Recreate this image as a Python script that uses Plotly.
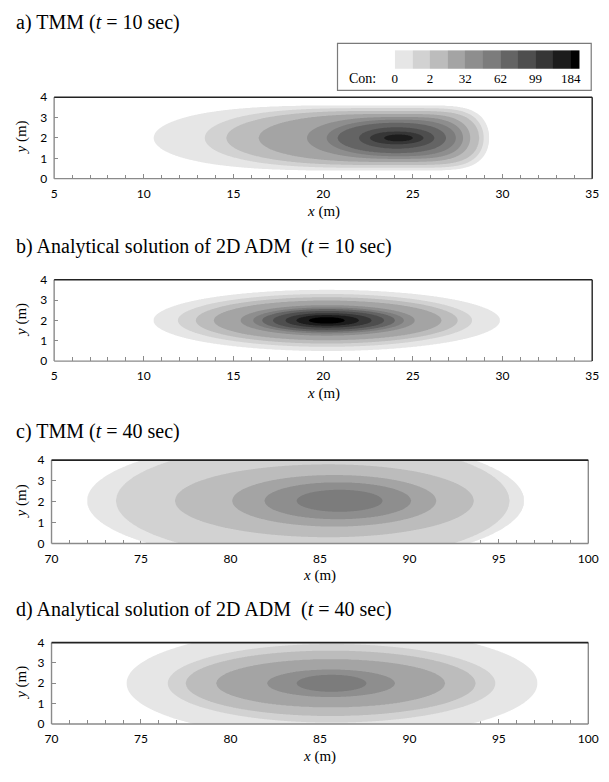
import numpy as np
import plotly.graph_objects as go

W, H = 609, 782

# ---- contour bands of each panel -------------------------------------------
# For every contour level (outermost first): left / right x extent on the plume
# axis, x where the band is widest, and its half-width in y (all in metres).
A_LEFT = [10.55, 13.4, 14.6, 16.4, 19.1, 20.2, 20.8, 22.0, 22.6, 23.4]
A_RIGHT = [29.25, 28.95, 28.7, 28.2, 27.8, 27.4, 26.85, 26.2, 25.6, 25.0]
A_MID = [22.5, 23.0, 23.3, 23.6, 24.0, 24.1, 24.0, 24.1, 24.1, 24.2]
A_HALF = [1.6, 1.47, 1.33, 1.18, 1.03, 0.9, 0.75, 0.53, 0.32, 0.17]
A_TAIL_P = [3.2, 3.0, 2.8, 2.6, 2.4, 2.2, 2.0, 2.0, 2.0, 2.0]
A_FRONT_P = [8, 7, 6, 5, 4, 3, 2.5, 2, 2, 2]

B_LEFT = [10.55, 11.9, 12.9, 13.9, 15.4, 16.1, 16.6, 17.2, 17.9, 18.5, 19.2]
B_RIGHT = [29.85, 28.3, 27.5, 26.6, 25.1, 24.5, 24.0, 23.4, 22.7, 22.0, 21.2]
B_MID = [20.2] * 11
B_HALF = [1.5, 1.3, 1.14, 0.98, 0.75, 0.64, 0.56, 0.47, 0.36, 0.27, 0.16]

C_LEFT = [72.0, 73.6, 76.9, 80.1, 81.9, 83.7]
C_RIGHT = [96.4, 95.6, 93.6, 91.5, 90.1, 88.5]
C_MID = [84.8, 85.3, 85.5, 85.8, 86.0, 86.1]
C_HALF = [3.0, 2.85, 1.75, 1.24, 0.89, 0.53]

D_LEFT = [74.2, 76.5, 77.5, 79.2, 82.05, 83.7]
D_RIGHT = [97.15, 94.8, 93.7, 92.0, 89.2, 87.6]
D_MID = [85.7, 85.65, 85.6, 85.6, 85.6, 85.65]
D_HALF = [2.7, 1.93, 1.61, 1.19, 0.68, 0.42]

# legend: grey of each band (lightest to darkest) and the labelled levels
BAND_GREYS = [230, 210, 188, 164, 142, 124, 100, 78, 54, 28, 0]
LEVEL_LABELS = ["0", "2", "32", "62", "99", "184"]
LEVEL_LABEL_POS = [0, 2, 4, 6, 8, 10]

TITLES = [
    "a) TMM (<i>t</i> = 10 sec)",
    "b) Analytical solution of 2D ADM&#160; (<i>t</i> = 10 sec)",
    "c) TMM (<i>t</i> = 40 sec)",
    "d) Analytical solution of 2D ADM&#160; (<i>t</i> = 40 sec)",
]
X_RANGES = [(5, 35), (5, 35), (70, 100), (70, 100)]


def level_field(x, y, left, right, mid, half, yc, p_tail=None, p_front=None):
    """Continuous level index: equals k on the boundary of band k."""
    k = len(left)
    p_tail = p_tail or [2.0] * k
    p_front = p_front or [2.0] * k
    X, Y = np.meshgrid(x, y)
    R = []
    for l, r, m, h, pl, pr in zip(left, right, mid, half, p_tail, p_front):
        dx = X - m
        a = np.where(dx < 0, m - l, r - m)
        p = np.where(dx < 0, pl, pr)
        R.append(np.abs(dx / a) ** p + ((Y - yc) / h) ** 2)
    R = np.array(R)
    n = (R <= 1).sum(0)
    idx = np.clip(n - 1, 0, k - 2)
    ri = np.take_along_axis(R, idx[None], 0)[0]
    rj = np.take_along_axis(R, (idx + 1)[None], 0)[0]
    f = idx + (1 - ri) / np.maximum(rj - ri, 1e-9)
    f = np.where(n == 0, 1 - R[0], f)
    f = np.where(n == k, k - 1 + 0.9 * (1 - R[k - 1]), f)
    return f


def grey(v):
    return f"rgb({v},{v},{v})"


def stepped(colors):
    n = len(colors) - 1
    cs = []
    for j, c in enumerate(colors):
        cs.append([max(0.0, (j - 0.5) / n), c])
        cs.append([min(1.0, (j + 0.5) / n), c])
    return cs


contour_scale = stepped(["rgba(255,255,255,0)"] + [grey(g) for g in BAND_GREYS])
legend_scale = stepped([grey(g) for g in BAND_GREYS])

panels = [
    (A_LEFT, A_RIGHT, A_MID, A_HALF, 2.0, A_TAIL_P, A_FRONT_P),
    (B_LEFT, B_RIGHT, B_MID, B_HALF, 2.0, None, None),
    (C_LEFT, C_RIGHT, C_MID, C_HALF, 2.05, None, None),
    (D_LEFT, D_RIGHT, D_MID, D_HALF, 2.0, None, None),
]

# plot-area boxes in pixels: (left, right, top, bottom)
BOXES = [(48.5, 602, 91, 174), (48.5, 602, 277, 360),
         (45.8, 598, 461, 546), (45.8, 598, 647, 730)]
TITLE_Y = [15, 243, 432, 613]

fig = go.Figure()
tick_font = dict(family="Lato", size=12, color="black")
serif = "Liberation Serif"
annotations = []
shapes = []

for i, (pan, box, xr) in enumerate(zip(panels, BOXES, X_RANGES)):
    n = i + 1
    xs = np.linspace(xr[0], xr[1], 601)
    ys = np.linspace(0, 4, 161)
    z = level_field(xs, ys, *pan)
    fig.add_trace(go.Contour(
        x=xs, y=ys, z=z, xaxis=f"x{n}", yaxis=f"y{n}",
        autocontour=False,
        contours=dict(start=0, end=10, size=1, coloring="fill", showlines=False),
        colorscale=contour_scale, showscale=False, line=dict(width=0),
        hoverinfo="skip",
    ))
    l, r, t, b = box
    dom_x = [l / W, r / W]
    dom_y = [1 - b / H, 1 - t / H]
    sfx = "" if n == 1 else str(n)
    fig.layout[f"xaxis{sfx}"] = dict(
        domain=dom_x, range=list(xr), anchor=f"y{n}", dtick=5, tick0=xr[0],
        ticks="inside", ticklen=5, tickcolor="#8a8a8a", tickwidth=1,
        minor=dict(dtick=1, ticks="inside", ticklen=4, tickcolor="#8a8a8a"),
        showgrid=False, zeroline=False, showline=False, layer="below traces",
        tickfont=tick_font, ticklabelstandoff=6, fixedrange=True)
    fig.layout[f"yaxis{sfx}"] = dict(
        domain=dom_y, range=[0, 4], anchor=f"x{n}", dtick=1,
        ticks="inside", ticklen=4, tickcolor="#8a8a8a", tickwidth=1,
        showgrid=False, zeroline=False, showline=False, layer="below traces",
        tickfont=tick_font, ticklabelstandoff=6, fixedrange=True)

    xd, yd = f"x{sfx} domain" if sfx else "x domain", f"y{sfx} domain" if sfx else "y domain"
    side_col = "#222222" if i < 2 else "#8a8a8a"
    for (x0, y0, x1, y1, col, w) in [
        (0, 0, 1, 0, "#8a8a8a", 1.4), (0, 0, 0, 1, "#8a8a8a", 1.4),
        (1, 0, 1, 1, side_col, 1.4), (0, 1, 1, 1, "#222222", 1.6)]:
        shapes.append(dict(type="line", xref=xd, yref=yd, x0=x0, y0=y0,
                           x1=x1, y1=y1, line=dict(color=col, width=w),
                           layer="above"))

    annotations.append(dict(
        text=TITLES[i], x=7 / W, y=1 - TITLE_Y[i] / H, xref="paper", yref="paper",
        xanchor="left", yanchor="middle", showarrow=False,
        font=dict(family=serif, size=20, color="black")))
    annotations.append(dict(
        text="<i>x</i> (m)", x=(l + r) / 2 / W, y=1 - (b + 33) / H,
        xref="paper", yref="paper", xanchor="center", yanchor="middle",
        showarrow=False, font=dict(family=serif, size=15, color="black")))
    annotations.append(dict(
        text="<i>y</i> (m)", x=15 / W, y=1 - (t + b) / 2 / H, textangle=-90,
        xref="paper", yref="paper", xanchor="center", yanchor="middle",
        showarrow=False, font=dict(family=serif, size=15, color="black")))

# ---- legend bar ----------------------------------------------------------------
edges = list(range(len(BAND_GREYS))) + [len(BAND_GREYS) - 0.5]
fig.add_trace(go.Heatmap(
    z=[list(range(len(BAND_GREYS)))], x=edges, y=[0, 1],
    xaxis="x5", yaxis="y5", colorscale=legend_scale, zmin=0,
    zmax=len(BAND_GREYS) - 1, showscale=False, hoverinfo="skip", xgap=0))
fig.layout["xaxis5"] = dict(
    domain=[399 / W, 589 / W], range=[0, edges[-1]], anchor="y5",
    tickvals=LEVEL_LABEL_POS, ticktext=LEVEL_LABELS, ticks="",
    showgrid=False, zeroline=False, showline=False, ticklabelstandoff=0,
    tickfont=dict(family=serif, size=13, color="black"), fixedrange=True)
fig.layout["yaxis5"] = dict(
    domain=[1 - 62 / H, 1 - 43 / H], range=[0, 1], anchor="x5",
    showticklabels=False, ticks="", showgrid=False, zeroline=False,
    showline=False, fixedrange=True)
shapes.append(dict(type="rect", xref="paper", yref="paper",
                   x0=340 / W, x1=601 / W, y0=1 - 84 / H, y1=1 - 36 / H,
                   line=dict(color="#7a7a7a", width=1.2), fillcolor="rgba(0,0,0,0)",
                   layer="below"))
annotations.append(dict(
    text="Con:", x=366 / W, y=1 - 72 / H, xref="paper", yref="paper",
    xanchor="center", yanchor="middle", showarrow=False,
    font=dict(family=serif, size=14, color="black")))

fig.update_layout(
    width=W, height=H, margin=dict(l=0, r=0, t=0, b=0),
    paper_bgcolor="white", plot_bgcolor="white", showlegend=False,
    annotations=annotations, shapes=shapes)

fig.write_html("out.html")
